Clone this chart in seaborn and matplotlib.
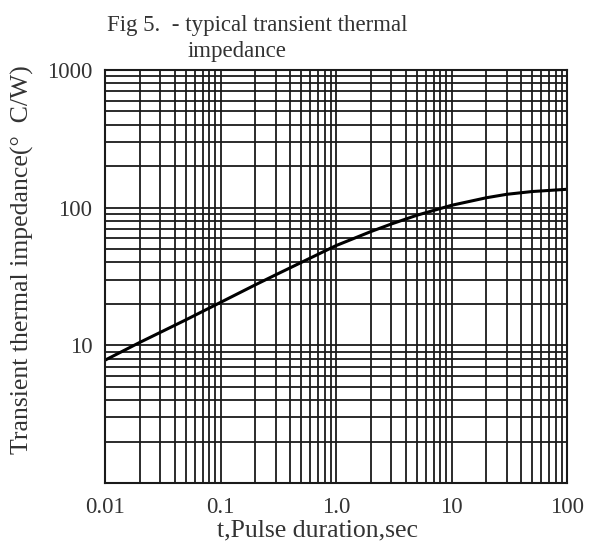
import matplotlib
matplotlib.use("Agg")
import matplotlib.pyplot as plt
from matplotlib.ticker import LogLocator, NullFormatter, FixedLocator, FixedFormatter
import seaborn as sns
import pandas as pd

# Data
pulse_duration = [0.01, 0.02, 0.03, 0.05, 0.1, 0.2, 0.3, 0.5, 1.0, 2.0, 3.0, 5.0, 10.0, 20.0, 30.0, 50.0, 100.0]
thermal_impedance = [7.8, 10.5, 12.4, 15.3, 20.5, 27.5, 32.5, 40.0, 53.0, 67.0, 76.0, 88.0, 104.0, 118.0, 125.0, 131.0, 136.0]
x_ticks = [0.01, 0.1, 1.0, 10, 100]
x_tick_labels = ["0.01", "0.1", "1.0", "10", "100"]
y_ticks = [10, 100, 1000]
y_tick_labels = ["10", "100", "1000"]

df = pd.DataFrame({"t": pulse_duration, "z": thermal_impedance})

sns.set_theme(style="white")
plt.rcParams["font.family"] = ["Liberation Serif", "DejaVu Serif"]

fig = plt.figure(figsize=(5.92, 5.48), dpi=100)
ax = fig.add_axes([105 / 592, 1 - 483 / 548, (567 - 105) / 592, (483 - 70) / 548])
ax.set_xscale("log")
ax.set_yscale("log")

sns.lineplot(data=df, x="t", y="z", ax=ax, color="black", linewidth=2.2)

ax.set_xlim(0.01, 100)
ax.set_ylim(1, 1000)

ax.xaxis.set_major_locator(FixedLocator(x_ticks))
ax.xaxis.set_major_formatter(FixedFormatter(x_tick_labels))
ax.yaxis.set_major_locator(FixedLocator(y_ticks))
ax.yaxis.set_major_formatter(FixedFormatter(y_tick_labels))
ax.xaxis.set_minor_locator(LogLocator(base=10, subs=range(2, 10)))
ax.yaxis.set_minor_locator(LogLocator(base=10, subs=range(2, 10)))
ax.xaxis.set_minor_formatter(NullFormatter())
ax.yaxis.set_minor_formatter(NullFormatter())

ax.grid(which="both", color="#1a1a1a", linewidth=1.3)
ax.tick_params(which="both", length=0, labelsize=16.5, colors="#333333")
ax.tick_params(axis="x", pad=10)
ax.tick_params(axis="y", pad=9)
for s in ax.spines.values():
    s.set_color("#1a1a1a")
    s.set_linewidth(1.5)

ax.set_xlabel("")
ax.set_ylabel("")

fig.text(317 / 592, 1 - 530 / 548, "t,Pulse duration,sec", ha="center", va="center",
         fontsize=18.5, color="#333333")
fig.text(22 / 592, 1 - 260 / 548, "Transient thermal impedance(°  C/W)", ha="center", va="center",
         rotation=90, fontsize=18.5, color="#333333")
fig.text(107 / 592, 1 - 31 / 548, "Fig 5.  - typical transient thermal", ha="left", va="baseline",
         fontsize=16.5, color="#333333")
fig.text(188 / 592, 1 - 57 / 548, "impedance", ha="left", va="baseline",
         fontsize=16.5, color="#333333")

fig.savefig("out.png", dpi=100)
